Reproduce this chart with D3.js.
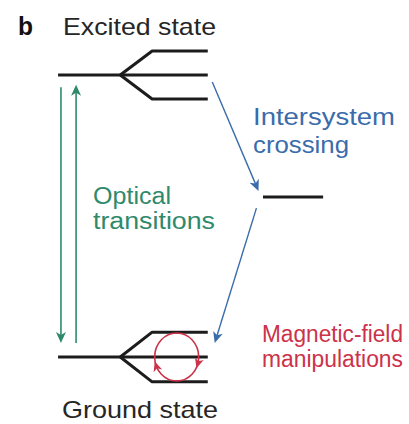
<!DOCTYPE html>
<meta charset="utf-8">
<style>
  body { margin: 0; background: #fff; }
  text { font-family: "Liberation Sans", Arial, sans-serif; }
</style>

<body>
  <!-- load the d3.js library -->
  <script src="https://d3js.org/d3.v7.min.js"></script>
  <script>

    // energy levels (0 = ground, 1 = excited)
    var levelNames = ["Excited state", "Intermediate", "Ground state"];
    var levelEnergy = [1, 0.567, 0];
    var levelSplit = [0.085, 0, 0.088];   // zero-field sublevel splitting

    // text labels
    var titleLetter = "b";
    var iscLabel = ["Intersystem", "crossing"];
    var opticalLabel = ["Optical", "transitions"];
    var magneticLabel = ["Magnetic-field", "manipulations"];

    var width = 409, height = 424;

    // set the ranges
    var y = d3.scaleLinear().domain([0, 1]).range([357, 75]);
    var x = d3.scaleLinear().domain([0, 1]).range([0, 409]);

    var svg = d3.select("body").append("svg")
      .attr("width", width)
      .attr("height", height);

    var black = "#1c1c1c", green = "#2f8a6c", blue = "#3a6cab", red = "#cc3249";

    // draw a split level: main line, fan, three sublevels
    function splitLevel(e, split) {
      var g = svg.append("g")
        .attr("fill", "none")
        .attr("stroke", black)
        .attr("stroke-width", 3);
      var x0 = x(0.142), xb = x(0.294), xs = x(0.372), x1 = x(0.508);
      g.append("line").attr("x1", x0).attr("x2", x1).attr("y1", y(e)).attr("y2", y(e));
      [1, -1].forEach(function (s) {
        g.append("path")
          .attr("stroke-linejoin", "round")
          .attr("d", "M" + xb + "," + y(e) + "L" + xs + "," + y(e + s * split) + "L" + x1 + "," + y(e + s * split));
      });
    }

    splitLevel(levelEnergy[0], levelSplit[0]);
    splitLevel(levelEnergy[2], levelSplit[2]);

    // intermediate singlet level
    svg.append("line")
      .attr("x1", x(0.643)).attr("x2", x(0.79))
      .attr("y1", y(levelEnergy[1])).attr("y2", y(levelEnergy[1]))
      .attr("stroke", black).attr("stroke-width", 3);

    // arrowhead: tip at (px,py), pointing in direction ang (radians)
    function head(px, py, ang, len, w, color) {
      svg.append("path")
        .attr("d", "M0,0L" + (-len) + "," + (-w) + "L" + (-len * 0.72) + ",0L" + (-len) + "," + w + "Z")
        .attr("fill", color)
        .attr("transform", "translate(" + px + "," + py + ")rotate(" + (ang * 180 / Math.PI) + ")");
    }

    function arrow(xa, ya, xb2, yb, color, sw) {
      var ang = Math.atan2(yb - ya, xb2 - xa);
      svg.append("line")
        .attr("x1", xa).attr("y1", ya)
        .attr("x2", xb2 - Math.cos(ang) * 6).attr("y2", yb - Math.sin(ang) * 6)
        .attr("stroke", color).attr("stroke-width", sw);
      head(xb2, yb, ang, 11, 5, color);
    }

    // optical transitions (green)
    arrow(x(0.149), y(0.957), x(0.149), y(0.05), green, 1.6);
    arrow(x(0.186), y(0.05), x(0.186), y(0.965), green, 1.6);

    // intersystem crossing (blue)
    arrow(x(0.519), y(0.975), x(0.632), y(0.589), blue, 1.4);
    arrow(x(0.627), y(0.528), x(0.525), y(0.05), blue, 1.4);

    // magnetic-field manipulation loop (red)
    var cx = x(0.432), cy = y(levelEnergy[2]), rx = 22, ry = 24;
    svg.append("ellipse")
      .attr("cx", cx).attr("cy", cy).attr("rx", rx).attr("ry", ry)
      .attr("fill", "none").attr("stroke", red).attr("stroke-width", 1.6);
    [18, 160].forEach(function (deg) {
      var t = deg * Math.PI / 180;
      var px = cx + rx * Math.cos(t), py = cy + ry * Math.sin(t);
      var ang = Math.atan2(ry * Math.cos(t), -rx * Math.sin(t));
      head(px + Math.cos(ang) * 4, py + Math.sin(ang) * 4, ang, 10, 4.5, red);
    });

    // labels
    function label(lines, xs, y0, dy, lens, color, size, weight) {
      var t = svg.append("text")
        .attr("fill", color)
        .attr("font-size", size)
        .attr("font-weight", weight || "normal");
      lines.forEach(function (s, i) {
        t.append("tspan")
          .attr("x", xs).attr("y", y0 + i * dy)
          .attr("textLength", lens[i])
          .attr("lengthAdjust", "spacingAndGlyphs")
          .text(s);
      });
    }

    label([titleLetter], 18, 35, 0, [15], "#111", 25, "bold");
    label([levelNames[0]], 63, 35, 0, [153], "#262626", 24);
    label([levelNames[2]], 62, 418, 0, [156], "#262626", 24);
    label(iscLabel, 253, 125, 28, [142, 96], blue, 24);
    label(opticalLabel, 93, 204, 25, [78, 122], green, 23);
    label(magneticLabel, 262, 342, 25, [141, 141], red, 23);

  </script>
</body>
